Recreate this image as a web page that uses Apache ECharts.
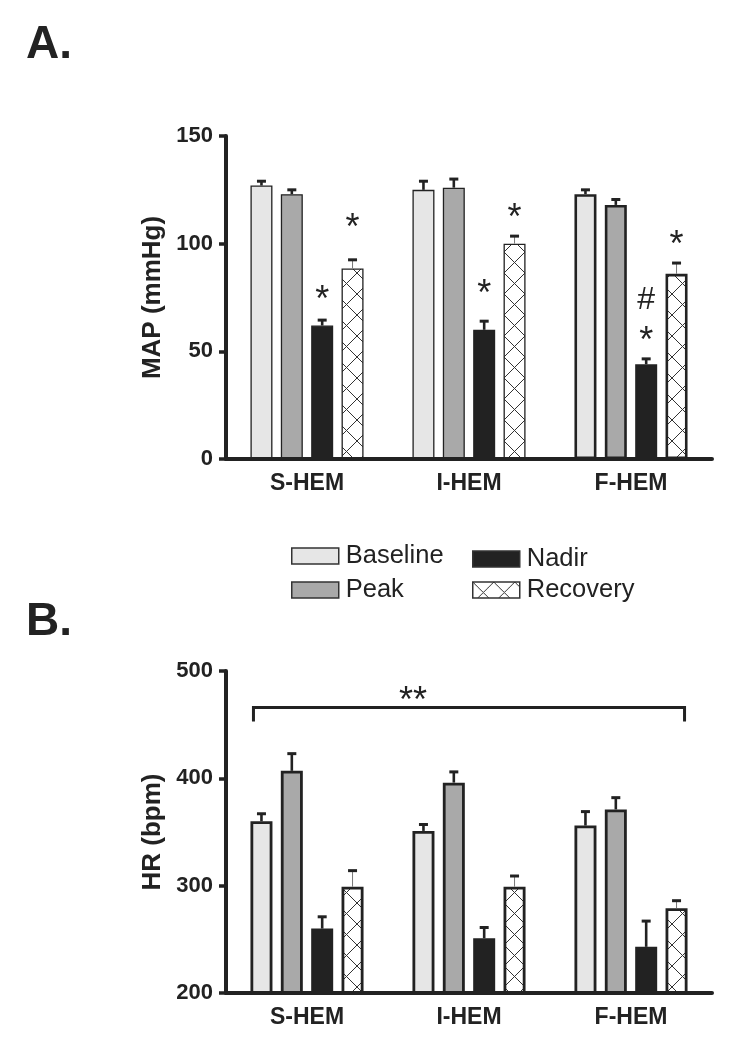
<!DOCTYPE html>
<html>
<head>
<meta charset="utf-8">
<script src="https://cdn.jsdelivr.net/npm/echarts@6/dist/echarts.min.js"></script>
<style>html,body{margin:0;padding:0;background:#fff;}#c{width:746px;height:1050px;}</style>
</head>
<body>
<div id="c"></div>
<script>
// ---------- DATA ----------
const categories = ['S-HEM', 'I-HEM', 'F-HEM'];
const seriesNames = ['Baseline', 'Peak', 'Nadir', 'Recovery'];

// Panel A: MAP (mmHg)
const mapBaseline = [127, 125, 123];
const mapPeak     = [123, 126, 118];
const mapNadir    = [62, 60, 44];
const mapRecovery = [88.5, 100, 86];
const mapBaselineSem = [2, 4, 2];
const mapPeakSem     = [2, 4, 2.5];
const mapNadirSem    = [2.5, 4, 2.5];
const mapRecoverySem = [4, 3.5, 5];

// Panel B: HR (bpm)
const hrBaseline = [360, 351, 356];
const hrPeak     = [407, 396, 371];
const hrNadir    = [260, 251, 243];
const hrRecovery = [299, 299, 279];
const hrBaselineSem = [7, 6, 13];
const hrPeakSem     = [16, 10, 11];
const hrNadirSem    = [11, 10, 24];
const hrRecoverySem = [15, 10, 7];

// Significance marks, panel A: [categoryIndex, barSlot, yValue]
const mapMarkPos   = [[0, 2, 77.5], [0, 3, 111], [1, 2, 80.5], [1, 3, 115.5], [2, 2, 58.5], [2, 2, 74], [2, 3, 103]];
const mapMarkTexts = ['*', '*', '*', '*', '*', '#', '*'];
// Panel B bracket: [fromCategory, toCategory, yValue], label and its y
const hrBracket = [[0, 2, 466]];
const hrBracketText = '**';
const hrBracketTextY = 479;

// ---------- STYLE ----------
const FONT = '"Liberation Sans", Arial, Helvetica, sans-serif';
const INK = '#222';
const BAR_W = 22, BAR_GAP = 0.38;
const STEP = BAR_W * (1 + BAR_GAP);
const fills = ['#e6e6e6', '#a9a9a9', '#222222', null];

function makeHatch() {
  const s = 21;
  const cv = document.createElement('canvas');
  cv.width = s; cv.height = s;
  const ctx = cv.getContext('2d');
  ctx.fillStyle = '#fff'; ctx.fillRect(0, 0, s, s);
  ctx.strokeStyle = '#333'; ctx.lineWidth = 1;
  ctx.beginPath();
  ctx.moveTo(0, 0); ctx.lineTo(s, s);
  ctx.moveTo(s, 0); ctx.lineTo(0, s);
  ctx.stroke();
  return cv;
}
const hatch = { image: makeHatch(), repeat: 'repeat' };

const chart = echarts.init(document.getElementById('c'), null, { renderer: 'canvas' });

const panelA = [mapBaseline, mapPeak, mapNadir, mapRecovery];
const panelASem = [mapBaselineSem, mapPeakSem, mapNadirSem, mapRecoverySem];
const panelB = [hrBaseline, hrPeak, hrNadir, hrRecovery];
const panelBSem = [hrBaselineSem, hrPeakSem, hrNadirSem, hrRecoverySem];
const borderA = [1.3, 1.3, 2.6];

function barSeries(vals, k, gi, borders) {
  return {
    type: 'bar', name: seriesNames[k],
    xAxisIndex: gi, yAxisIndex: gi,
    barWidth: BAR_W, barGap: (BAR_GAP * 100) + '%',
    z: 2,
    itemStyle: { color: fills[k] || hatch, borderColor: INK, borderWidth: 2.5 },
    data: vals.map((v, i) => ({ value: v, itemStyle: { borderWidth: borders ? borders[i] : 2.8 } }))
  };
}
function errSeries(vals, sems, k, gi) {
  const rec = k === 3;
  return {
    type: 'custom', xAxisIndex: gi, yAxisIndex: gi, z: 4, silent: true,
    data: vals.map((v, i) => [i, v, sems[i]]),
    renderItem: function (params, api) {
      const x = api.coord([api.value(0), 0])[0] + (k - 1.5) * STEP;
      const yb = api.coord([api.value(0), api.value(1)])[1];
      const yt = api.coord([api.value(0), api.value(1) + api.value(2)])[1];
      return { type: 'group', children: [
        { type: 'line', shape: { x1: x, y1: yb, x2: x, y2: yt }, style: { stroke: rec ? '#777' : INK, lineWidth: rec ? 1 : 2.6 } },
        { type: 'line', shape: { x1: x - 4.5, y1: yt, x2: x + 4.5, y2: yt }, style: { stroke: INK, lineWidth: 3 } }
      ] };
    }
  };
}

const series = [];
panelA.forEach((v, k) => series.push(barSeries(v, k, 0, borderA)));
panelB.forEach((v, k) => series.push(barSeries(v, k, 1, null)));
panelA.forEach((v, k) => series.push(errSeries(v, panelASem[k], k, 0)));
panelB.forEach((v, k) => series.push(errSeries(v, panelBSem[k], k, 1)));

const MARK_FS = 36;
series.push({
  type: 'custom', xAxisIndex: 0, yAxisIndex: 0, z: 5, silent: true,
  data: mapMarkPos,
  renderItem: function (params, api) {
    const x = api.coord([api.value(0), 0])[0] + (api.value(1) - 1.5) * STEP;
    const y = api.coord([api.value(0), api.value(2)])[1];
    const t = mapMarkTexts[params.dataIndex];
    return { type: 'text', x: x, y: t === '*' ? y + 9 : y + 1,
      style: { text: t, fontSize: t === '*' ? MARK_FS : 32, fontFamily: FONT, fill: INK, align: 'center', verticalAlign: 'middle' } };
  }
});
series.push({
  type: 'custom', xAxisIndex: 1, yAxisIndex: 1, z: 5, silent: true,
  data: hrBracket,
  renderItem: function (params, api) {
    const off = 1.5 * STEP + BAR_W / 2 - 3;
    const x1 = api.coord([api.value(0), 0])[0] - off;
    const x2 = api.coord([api.value(1), 0])[0] + off;
    const y = api.coord([0, api.value(2)])[1];
    const ty = api.coord([0, hrBracketTextY])[1];
    const tx = x1 + (x2 - x1) * 0.37;
    return { type: 'group', children: [
      { type: 'polyline', shape: { points: [[x1, y + 14], [x1, y], [x2, y], [x2, y + 14]] }, style: { stroke: INK, lineWidth: 3, fill: null } },
      { type: 'text', x: tx, y: ty + 9, style: { text: hrBracketText, fontSize: MARK_FS, fontFamily: FONT, fill: INK, align: 'center', verticalAlign: 'middle' } }
    ] };
  }
});

function xAxis(gi) {
  return {
    type: 'category', gridIndex: gi, data: categories, z: 6,
    axisLine: { lineStyle: { color: INK, width: 4 } },
    axisTick: { alignWithLabel: true, length: 7, lineStyle: { color: INK, width: 3.5 } },
    axisLabel: { fontSize: 23, fontWeight: 'bold', color: INK, fontFamily: FONT, margin: 13 },
    splitLine: { show: false }
  };
}
function yAxis(gi, min, max, interval, name) {
  return {
    type: 'value', gridIndex: gi, min: min, max: max, interval: interval, z: 6,
    name: name, nameLocation: 'middle', nameRotate: 90, nameGap: 59,
    nameTextStyle: { fontSize: 26, fontWeight: 'bold', color: INK, fontFamily: FONT },
    axisLine: { show: true, lineStyle: { color: INK, width: 4 } },
    axisTick: { show: true, length: 7, lineStyle: { color: INK, width: 3.5 } },
    axisLabel: { fontSize: 22, fontWeight: 'bold', color: INK, fontFamily: FONT, margin: 13 },
    splitLine: { show: false }
  };
}

const legendCommon = {
  orient: 'vertical', itemWidth: 47, itemHeight: 16, icon: 'rect', padding: 0,
  textStyle: { fontSize: 25.5, color: INK, fontFamily: FONT, padding: [3, 0, 0, 2] },
  itemStyle: { borderColor: '#333', borderWidth: 1.5 },
  selectedMode: false
};

chart.setOption({
  animation: false,
  backgroundColor: '#fff',
  title: [
    { text: 'A.', left: 26, top: 22, padding: 0, textStyle: { fontSize: 46, fontWeight: 'bold', color: INK, fontFamily: FONT } },
    { text: 'B.', left: 26, top: 599, padding: 0, textStyle: { fontSize: 46, fontWeight: 'bold', color: INK, fontFamily: FONT } }
  ],
  legend: [
    Object.assign({ data: ['Baseline', 'Peak'], left: 291, top: 543, itemGap: 8 }, legendCommon),
    Object.assign({ data: ['Nadir', 'Recovery'], left: 472, top: 546, itemGap: 5 }, legendCommon)
  ],
  grid: [
    { left: 226, top: 136, width: 486, height: 323 },
    { left: 226, top: 671, width: 486, height: 322 }
  ],
  xAxis: [xAxis(0), xAxis(1)],
  yAxis: [yAxis(0, 0, 150, 50, 'MAP (mmHg)'), yAxis(1, 200, 500, 100, 'HR (bpm)')],
  series: series
});
</script>
</body>
</html>
